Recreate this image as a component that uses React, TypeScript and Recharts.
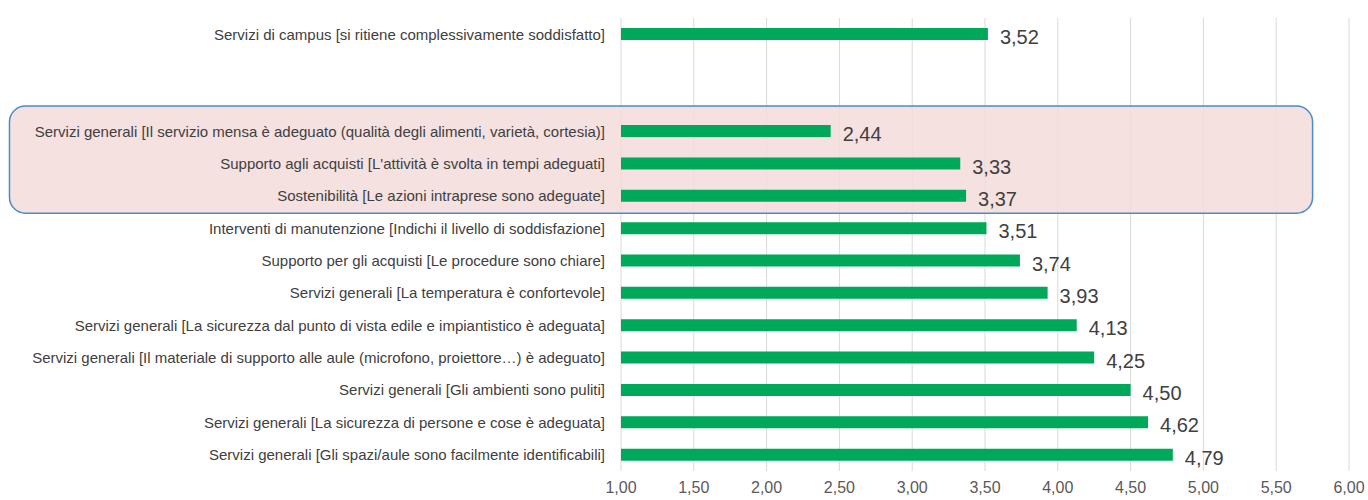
import React from "react";
import {
  BarChart,
  Bar,
  XAxis,
  YAxis,
  CartesianGrid,
  LabelList,
  ReferenceArea,
} from "recharts";

// top-to-bottom order, two blank rows after the first one
const categories = [
  "Servizi di campus [si ritiene complessivamente soddisfatto]",
  " ",
  "  ",
  "Servizi generali  [Il servizio mensa è adeguato (qualità degli alimenti, varietà, cortesia)]",
  "Supporto agli acquisti [L'attività è svolta in tempi adeguati]",
  "Sostenibilità [Le azioni intraprese sono adeguate]",
  "Interventi di manutenzione [Indichi il livello di soddisfazione]",
  "Supporto per gli acquisti [Le procedure sono chiare]",
  "Servizi generali [La temperatura è confortevole]",
  "Servizi generali  [La sicurezza dal punto di vista edile e impiantistico è adeguata]",
  "Servizi generali  [Il materiale di supporto alle aule (microfono, proiettore…) è adeguato]",
  "Servizi generali [Gli ambienti sono puliti]",
  "Servizi generali [La sicurezza di persone e cose è adeguata]",
  "Servizi generali [Gli spazi/aule sono facilmente identificabili]",
];

const scores: (number | null)[] = [
  3.52, null, null, 2.44, 3.33, 3.37, 3.51, 3.74, 3.93, 4.13, 4.25, 4.5, 4.62, 4.79,
];

const xTicks = [1, 1.5, 2, 2.5, 3, 3.5, 4, 4.5, 5, 5.5, 6];

// rows inside the highlighted box
const boxFrom = categories[3];
const boxTo = categories[5];

const data = categories.map((name, i) => ({ name, score: scores[i] }));

const fmt = (v: any) =>
  v === null || v === undefined ? "" : Number(v).toFixed(2).replace(".", ",");

const FONT = "'Liberation Sans', Arial, sans-serif";

const HighlightBox = (props: any) => {
  const { x, y, width, height } = props;
  return (
    <rect
      x={x}
      y={y - 9}
      width={width}
      height={height + 10}
      rx={16}
      ry={16}
      fill="#f2dcdb"
      fillOpacity={0.85}
      stroke="#4a8cc8"
      strokeWidth={1.5}
    />
  );
};

export default function App() {
  return (
    <div style={{ width: 1368, height: 500, background: "#fff" }}>
      <style>{"body{margin:0}"}</style>
      <BarChart
        width={1368}
        height={500}
        data={data}
        layout="vertical"
        margin={{ top: 18, right: 19, bottom: 0, left: 0 }}
        barCategoryGap={0}
      >
        <CartesianGrid horizontal={false} stroke="#d9d9d9" />
        <ReferenceArea
          x1={-3.2}
          x2={5.75}
          y1={boxFrom}
          y2={boxTo}
          ifOverflow="visible"
          shape={<HighlightBox />}
        />
        <XAxis
          type="number"
          domain={[1, 6]}
          ticks={xTicks}
          tickFormatter={fmt}
          axisLine={false}
          tickLine={false}
          tickMargin={5}
          height={29}
          interval={0}
          tick={{ fill: "#595959", fontSize: 16, fontFamily: FONT }}
        />
        <YAxis
          type="category"
          dataKey="name"
          width={621}
          axisLine={false}
          tickLine={false}
          tickMargin={10}
          interval={0}
          tick={{ fill: "#404040", fontSize: 15, fontFamily: FONT }}
        />
        <Bar dataKey="score" fill="#00a859" barSize={12} isAnimationActive={false}>
          <LabelList
            dataKey="score"
            position="right"
            offset={12}
            formatter={fmt}
            style={{ fill: "#404040", fontSize: 20, fontFamily: FONT }}
            dy={3}
          />
        </Bar>
      </BarChart>
    </div>
  );
}
